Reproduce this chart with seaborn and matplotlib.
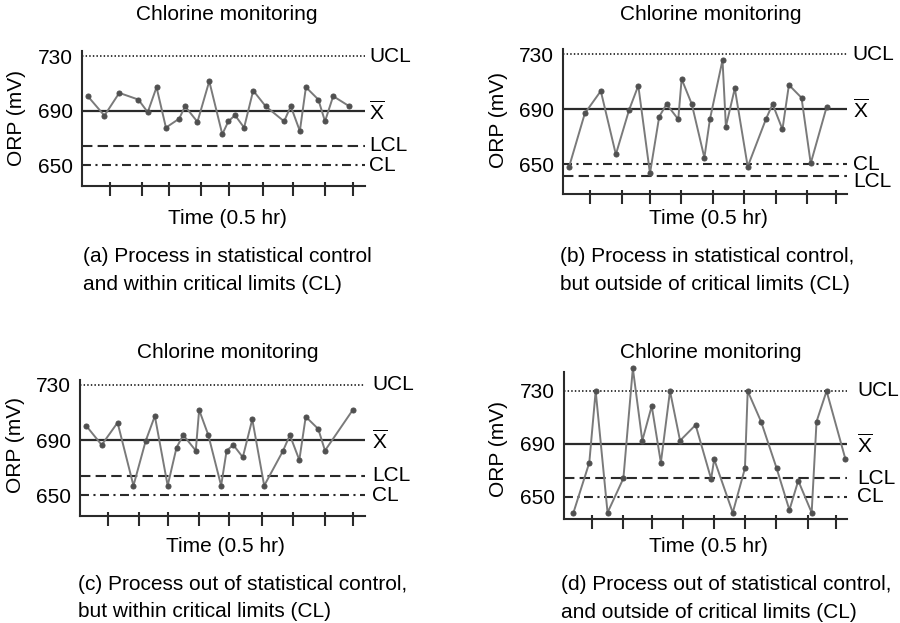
import numpy as np
import pandas as pd
import matplotlib
matplotlib.use("Agg")
import matplotlib.pyplot as plt
import seaborn as sns

# ---------------- data ----------------
time_a = [0.19, 0.74, 1.23, 1.86, 2.17, 2.46, 2.77, 3.21, 3.40, 3.81, 4.20, 4.63, 4.83,
          5.05, 5.35, 5.65, 6.06, 6.67, 6.89, 7.19, 7.39, 7.80, 8.02, 8.29, 8.82]
orp_a = [700.6, 686.3, 703.0, 698.1, 688.8, 707.2, 677.5, 684.1, 693.2, 681.7, 711.6, 672.6, 682.1,
         686.6, 677.5, 704.7, 693.2, 682.1, 693.2, 675.0, 707.2, 698.1, 682.1, 700.6, 693.2]

time_b = [0.19, 0.70, 1.22, 1.71, 2.14, 2.44, 2.82, 3.12, 3.36, 3.74, 3.85, 4.18, 4.59,
          4.77, 5.18, 5.29, 5.58, 6.00, 6.59, 6.81, 7.13, 7.34, 7.75, 8.05, 8.57]
orp_b = [648.1, 686.8, 703.1, 657.0, 689.3, 707.0, 643.2, 684.4, 693.6, 682.5, 711.8, 693.6, 654.6,
         682.5, 725.6, 677.2, 705.0, 648.1, 682.5, 693.6, 675.2, 707.5, 698.2, 650.5, 691.7]

time_c = [0.20, 0.71, 1.23, 1.75, 2.15, 2.45, 2.87, 3.16, 3.38, 3.79, 3.90, 4.20, 4.62,
          4.80, 5.02, 5.33, 5.64, 6.03, 6.65, 6.87, 7.18, 7.39, 7.80, 8.02, 8.93]
orp_c = [700.5, 686.5, 702.7, 657.0, 689.4, 707.5, 657.0, 684.6, 693.7, 682.4, 711.9, 693.7, 657.0,
         682.4, 686.5, 677.6, 705.1, 657.0, 682.4, 693.7, 675.6, 707.0, 698.1, 682.4, 711.9]

time_d = [0.30, 0.82, 1.03, 1.42, 1.94, 2.25, 2.56, 2.87, 3.17, 3.47, 3.80, 4.31, 4.82,
          4.92, 5.53, 5.93, 6.02, 6.46, 6.97, 7.39, 7.68, 8.12, 8.28, 8.61, 9.23]
orp_d = [637.9, 675.7, 730.0, 637.9, 663.9, 747.2, 692.4, 718.6, 675.7, 730.0, 692.4, 704.3, 663.4,
         678.3, 637.9, 671.5, 730.0, 706.8, 671.5, 639.9, 662.1, 637.9, 706.8, 730.0, 678.3]

ticks_a = [0.92, 1.97, 2.88, 3.92, 4.86, 5.98, 6.97, 8.02, 8.93]
ticks_b = [0.87, 1.90, 2.82, 3.83, 4.88, 5.89, 6.92, 7.93, 8.87]
ticks_c = [0.93, 1.94, 2.87, 3.90, 4.89, 5.97, 6.98, 8.02, 8.93]
ticks_d = [0.92, 1.94, 2.87, 3.89, 4.92, 5.93, 6.95, 8.01, 8.92]

ucl_levels = [730, 730, 730, 730]
mean_levels = [690, 690, 690, 690]
lcl_levels = [664, 641.5, 664, 664]
cl_levels = [650, 650, 650, 650]

y_ticks = [650, 690, 730]
y_tick_labels = ["650", "690", "730"]

panel_title = "Chlorine monitoring"
x_label = "Time (0.5 hr)"
y_label = "ORP (mV)"
captions = [
    ["(a) Process in statistical control", "and within critical limits (CL)"],
    ["(b) Process in statistical control,", "but outside of critical limits (CL)"],
    ["(c) Process out of statistical control,", "but within critical limits (CL)"],
    ["(d) Process out of statistical control,", "and outside of critical limits (CL)"],
]
line_names = ["UCL", r"$\overline{\mathrm{X}}$", "LCL", "CL"]

# ---------------- style ----------------
sns.set_style("white")
plt.rcParams["font.family"] = ["Liberation Sans", "DejaVu Sans"]
plt.rcParams["mathtext.fontset"] = "custom"
plt.rcParams["mathtext.rm"] = "Liberation Sans"
plt.rcParams["mathtext.it"] = "Liberation Sans:italic"
FS = 15
INK = "#000000"
LINE = "#2a2a2a"
DATA = "#7a7a7a"
DOT = "#505050"

W, H = 900, 623
fig = plt.figure(figsize=(W / 100, H / 100), dpi=100)


def fx(x):
    return x / W


def fy(y):
    return 1 - y / H


# axes rectangles in pixels: left, top, right, bottom
rects = [(82, 50.7, 365, 186), (563.3, 48.5, 847.3, 194.3),
         (80, 380, 365, 516), (564.3, 372.5, 847.3, 519)]
ylims = [(634.6, 734), (628, 734), (635, 733.6), (633.1, 744)]
xlims = [(0, 9.34), (0, 9.24), (0, 9.33), (0, 9.29)]
times = [time_a, time_b, time_c, time_d]
orps = [orp_a, orp_b, orp_c, orp_d]
tickss = [ticks_a, ticks_b, ticks_c, ticks_d]

title_pos = [(227, 15), (711, 15), (227.5, 353), (711, 353)]
xlabel_pos = [(227.5, 219), (708.6, 219), (225.8, 546), (708, 546)]
ylabel_pos = [(16.7, 118.5), (499, 120), (16, 445), (498, 449)]
caption_pos = [(82.7, 257, 285), (560, 257, 285), (78.3, 585, 611.7), (561, 585, 612)]
label_dx = [3, 4, 5, 7]

for i in range(4):
    l, t, r, b = rects[i]
    ax = fig.add_axes([fx(l), fy(b), (r - l) / W, (b - t) / H])
    ax.set_facecolor("none")
    ax.set_xlim(*xlims[i])
    ax.set_ylim(*ylims[i])

    # control lines
    ax.axhline(ucl_levels[i], color=LINE, lw=1.3, linestyle=(0, (0.8, 1.2)), zorder=1)
    ax.axhline(mean_levels[i], color=LINE, lw=1.6, linestyle="-", zorder=1)
    ax.axhline(lcl_levels[i], color=LINE, lw=1.5, linestyle=(0, (5, 2.5)), zorder=1)
    ax.axhline(cl_levels[i], color=LINE, lw=1.5, linestyle=(0, (4.3, 2.15, 1.0, 2.15)), zorder=1)

    df = pd.DataFrame({"time": times[i], "orp": orps[i]})
    sns.lineplot(data=df, x="time", y="orp", ax=ax, color=DATA, lw=1.4,
                 marker="o", markersize=3.6, markerfacecolor=DOT, markeredgecolor=DOT,
                 estimator=None, sort=False, zorder=3, clip_on=False)

    # right-hand labels
    levels = [ucl_levels[i], mean_levels[i], lcl_levels[i], cl_levels[i]]
    dys = [0, -1, 0, 0]
    if lcl_levels[i] < cl_levels[i]:
        dys = [0, -1, -4.5, 0]
    for name, lev, dy in zip(line_names, levels, dys):
        ax.annotate(name, xy=(1, lev), xycoords=("axes fraction", "data"),
                    xytext=(label_dx[i], dy), textcoords="offset points",
                    ha="left", va="center", fontsize=FS, color=INK, annotation_clip=False)

    # axes styling
    for s in ["top", "right"]:
        ax.spines[s].set_visible(False)
    for s in ["left", "bottom"]:
        ax.spines[s].set_color(LINE)
        ax.spines[s].set_linewidth(1.5)
    ax.set_yticks(y_ticks)
    ax.set_yticklabels(y_tick_labels)
    ax.tick_params(axis="y", left=True, length=0, pad=6.5, labelsize=FS, labelcolor=INK)
    ax.xaxis.remove_overlapping_locs = False
    ax.set_xticks(tickss[i])
    ax.set_xticks(tickss[i], minor=True)
    ax.tick_params(axis="x", which="major", bottom=True, direction="out", length=7, width=1.5,
                   color=LINE, labelbottom=False)
    ax.tick_params(axis="x", which="minor", bottom=True, direction="in", length=3, width=1.5,
                   color=LINE, labelbottom=False)
    ax.set_xlabel("")
    ax.set_ylabel("")

    fig.text(fx(title_pos[i][0]), fy(title_pos[i][1]), panel_title, ha="center", va="center",
             fontsize=FS, color=INK)
    fig.text(fx(xlabel_pos[i][0]), fy(xlabel_pos[i][1]), x_label, ha="center", va="center",
             fontsize=FS, color=INK)
    fig.text(fx(ylabel_pos[i][0]), fy(ylabel_pos[i][1]), y_label, ha="center", va="center",
             rotation=90, fontsize=FS, color=INK)
    cx, cy1, cy2 = caption_pos[i]
    fig.text(fx(cx), fy(cy1), captions[i][0], ha="left", va="center", fontsize=FS, color=INK)
    fig.text(fx(cx), fy(cy2), captions[i][1], ha="left", va="center", fontsize=FS, color=INK)

fig.savefig("out.png", dpi=100, facecolor="white")
